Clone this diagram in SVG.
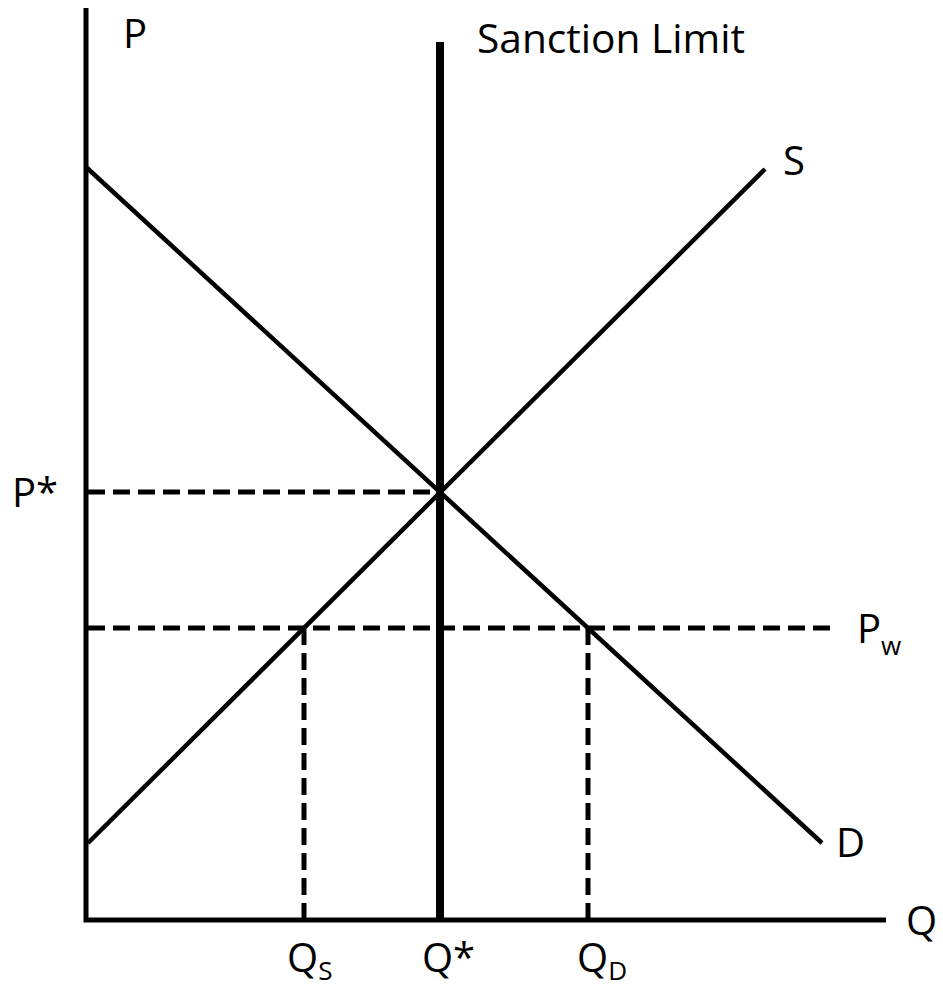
<svg xmlns="http://www.w3.org/2000/svg" width="943" height="988" viewBox="0 0 943 988">
<style>
.ax{stroke:#000;stroke-width:5;fill:none}
.cv{stroke:#000;stroke-width:4.5;fill:none}
.ds{stroke:#000;stroke-width:5;fill:none;stroke-dasharray:17 8}
.t{font-family:"Open Sans","Liberation Sans",sans-serif;font-size:40px;fill:#000}
.s{font-family:"Open Sans","Liberation Sans",sans-serif;font-size:26px;fill:#000}
</style>
<rect width="943" height="988" fill="#fff"/>
<g id="connectors">
<line class="ds" x1="88" y1="492" x2="440" y2="492"/>
<line class="ds" x1="88" y1="628" x2="836" y2="628"/>
<line class="ds" x1="304" y1="628" x2="304" y2="918"/>
<line class="ds" x1="588" y1="628" x2="588" y2="918"/>
</g>
<g id="axes">
<polyline class="ax" points="86,8 86,920 886,920"/>
</g>
<g id="sanction-limit">
<line stroke="#000" stroke-width="8" x1="440" y1="42" x2="440" y2="920"/>
<text class="t" x="477" y="53" textLength="268" lengthAdjust="spacingAndGlyphs">Sanction Limit</text>
</g>
<g id="demand">
<line class="cv" x1="86" y1="167" x2="822" y2="843"/>
<text class="t" x="836" y="857">D</text>
</g>
<g id="supply">
<line class="cv" x1="88" y1="843" x2="765" y2="169"/>
<text class="t" x="783" y="175">S</text>
</g>
<g id="labels">
<text class="t" x="123" y="48">P</text>
<text class="t" x="12" y="507">P*</text>
<text class="t" x="857" y="643">P<tspan class="s" dy="12">w</tspan></text>
<text class="t" x="906" y="935">Q</text>
<text class="t" x="287" y="972">Q<tspan class="s" dy="8">S</tspan></text>
<text class="t" x="422" y="972">Q*</text>
<text class="t" x="577" y="972">Q<tspan class="s" dy="8">D</tspan></text>
</g>
</svg>
